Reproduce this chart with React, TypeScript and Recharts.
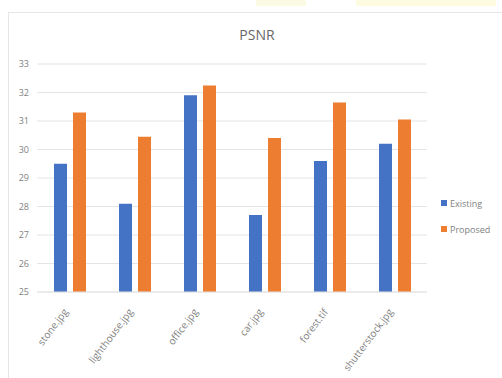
import React from 'react';
import { BarChart, Bar, XAxis, YAxis, CartesianGrid } from 'recharts';

const CATEGORIES = ['stone.jpg', 'lighthouse.jpg', 'office.jpg', 'car.jpg', 'forest.tif', 'shutterstock.jpg'];
const EXISTING = [29.5, 28.1, 31.9, 27.7, 29.6, 30.2];
const PROPOSED = [31.3, 30.45, 32.25, 30.4, 31.65, 31.05];
const Y_TICKS = [25, 26, 27, 28, 29, 30, 31, 32, 33];

const BLUE = '#4472C4';
const ORANGE = '#ED7D31';
const TEXT = '#7f7f7f';
const FONT = '"Open Sans", "Liberation Sans", sans-serif';

const data = CATEGORIES.map((name, i) => ({
  name,
  existing: EXISTING[i],
  proposed: PROPOSED[i],
}));

const XTick = ({ x, y, payload }: any) => {
  const ax = x - 1;
  const ay = y + 12;
  return (
    <text
      x={ax}
      y={ay}
      transform={`rotate(-53, ${ax}, ${ay})`}
      textAnchor="end"
      fontSize={10}
      fill={TEXT}
      fontFamily={FONT}
    >
      {payload.value}
    </text>
  );
};

export default function App() {
  return (
    <div style={{ position: 'absolute', left: 0, top: 0, width: 502, height: 378, background: '#fff', overflow: 'hidden' }}>
      {/* faint highlights at the top edge */}
      <div style={{ position: 'absolute', left: 256, top: 0, width: 50, height: 6, background: '#fbfbe4' }} />
      <div style={{ position: 'absolute', left: 356, top: 0, width: 140, height: 6, background: '#fdfbe0' }} />
      {/* chart frame */}
      <div style={{ position: 'absolute', left: 8, top: 12, width: 500, height: 380, border: '1px solid #e6e6e6', boxSizing: 'border-box' }} />
      <div
        style={{
          position: 'absolute', left: 6, width: 502, top: 25, textAlign: 'center',
          fontFamily: FONT, fontSize: 14, color: '#666',
        }}
      >
        PSNR
      </div>
      <div style={{ position: 'absolute', left: 0, top: 0 }}>
        <BarChart
          width={502}
          height={378}
          data={data}
          margin={{ top: 64, right: 75, bottom: 0, left: 0 }}
          barSize={13}
          barGap={6}
        >
          <CartesianGrid vertical={false} stroke="#e4e4e4" />
          <XAxis
            dataKey="name"
            interval={0}
            height={86}
            tickLine={false}
            axisLine={{ stroke: '#e4e4e4' }}
            tick={<XTick />}
          />
          <YAxis
            width={37}
            domain={[25, 33]}
            ticks={Y_TICKS}
            tickLine={false}
            axisLine={false}
            tick={{ fontSize: 9, fill: TEXT, fontFamily: FONT }}
          />
          <Bar dataKey="existing" fill={BLUE} isAnimationActive={false} />
          <Bar dataKey="proposed" fill={ORANGE} isAnimationActive={false} />
        </BarChart>
      </div>
      <div style={{ position: 'absolute', left: 441, top: 196, fontFamily: FONT, fontSize: 9, color: TEXT }}>
        <div style={{ display: 'flex', alignItems: 'center', height: 14 }}>
          <span style={{ width: 6, height: 6, background: BLUE, marginRight: 3 }} />Existing
        </div>
        <div style={{ display: 'flex', alignItems: 'center', height: 14, marginTop: 12 }}>
          <span style={{ width: 6, height: 6, background: ORANGE, marginRight: 3 }} />Proposed
        </div>
      </div>
    </div>
  );
}
